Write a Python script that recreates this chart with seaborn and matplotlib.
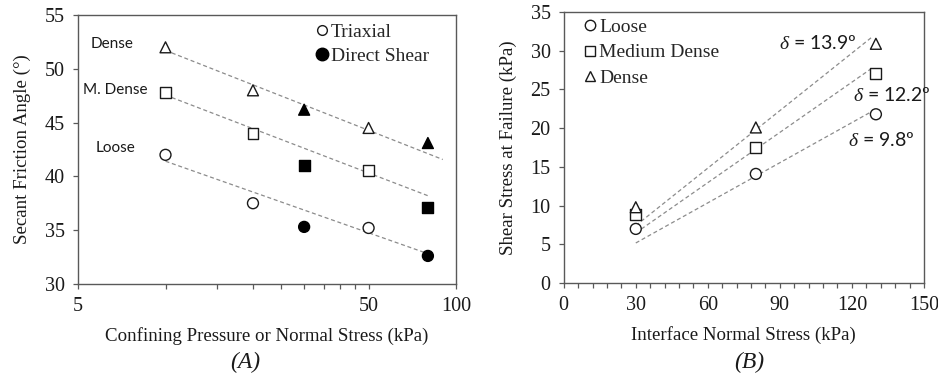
import numpy as np
import pandas as pd
import matplotlib
matplotlib.use("Agg")
import matplotlib.pyplot as plt
from matplotlib.lines import Line2D
from matplotlib.ticker import FixedLocator, FixedFormatter, MultipleLocator, NullFormatter
import seaborn as sns

# ---- Panel A: secant friction angle vs. confining pressure / normal stress ----
triaxial_pressure = [10, 20, 50]
shear_pressure = [30, 80]
density_states = ["Dense", "M. Dense", "Loose"]
triaxial_dense = [52.0, 48.0, 44.5]
triaxial_mdense = [47.8, 44.0, 40.5]
triaxial_loose = [42.0, 37.5, 35.2]
shear_dense = [46.2, 43.1]
shear_mdense = [41.0, 37.1]
shear_loose = [35.3, 32.6]
trend_end = [90, 80, 80]

# ---- Panel B: interface shear stress at failure ----
interface_stress = [30, 80, 130]
interface_states = ["Loose", "Medium Dense", "Dense"]
tau_loose = [7.0, 14.1, 21.8]
tau_medium = [8.9, 17.5, 27.1]
tau_dense = [9.8, 20.1, 30.9]
delta_deg = [9.8, 12.2, 13.9]
line_span = [30, 128]

sns.set_style("ticks")
plt.rcParams["font.family"] = ["Liberation Serif", "DejaVu Serif"]
plt.rcParams["mathtext.fontset"] = "custom"
plt.rcParams["mathtext.it"] = "Liberation Serif:italic"
plt.rcParams["mathtext.rm"] = "Lato"

SPINE = "#595959"
INK = "#1a1a1a"
TREND = "#8c8c8c"
LABEL_SIZE = 13.6
TICK_SIZE = 14.5

fig = plt.figure(figsize=(9.38, 3.76), dpi=100)
axA = fig.add_axes([0.0832, 0.245, 0.403, 0.715])
axB = fig.add_axes([0.601, 0.247, 0.384, 0.721])

marker_A = {"Dense": "^", "M. Dense": "s", "Loose": "o"}
marker_B = {"Loose": "o", "Medium Dense": "s", "Dense": "^"}

tri = pd.DataFrame({
    "pressure": triaxial_pressure * 3,
    "angle": triaxial_dense + triaxial_mdense + triaxial_loose,
    "state": [s for s in density_states for _ in triaxial_pressure],
})
dsh = pd.DataFrame({
    "pressure": shear_pressure * 3,
    "angle": shear_dense + shear_mdense + shear_loose,
    "state": [s for s in density_states for _ in shear_pressure],
})

# log-linear trend lines through the triaxial results
for state, xe in zip(density_states, trend_end):
    sub = tri[tri.state == state]
    k, b = np.polyfit(np.log10(sub.pressure), sub.angle, 1)
    xs = np.array([triaxial_pressure[0], xe])
    axA.plot(xs, k * np.log10(xs) + b, ls=(0, (3.2, 2.2)), lw=0.9, color=TREND, zorder=1)

sns.scatterplot(data=tri, x="pressure", y="angle", style="state", markers=marker_A,
                s=62, facecolor="white", edgecolor=INK, linewidth=1.0, legend=False,
                ax=axA, zorder=3)
sns.scatterplot(data=dsh, x="pressure", y="angle", style="state", markers=marker_A,
                s=62, color="black", edgecolor="black", linewidth=1.0, legend=False,
                ax=axA, zorder=3)

axA.set_xscale("log")
axA.set_xlim(5, 100)
axA.set_ylim(30, 55)
axA.xaxis.set_major_locator(FixedLocator([5, 50, 100]))
axA.xaxis.set_major_formatter(FixedFormatter(["5", "50", "100"]))
axA.xaxis.set_minor_locator(FixedLocator([10, 15, 20, 25, 30, 35, 40, 45]))
axA.xaxis.set_minor_formatter(NullFormatter())
axA.yaxis.set_major_locator(MultipleLocator(5))
axA.set_xlabel("Confining Pressure or Normal Stress (kPa)", fontsize=LABEL_SIZE, color=INK, labelpad=8)
axA.set_ylabel("Secant Friction Angle (°)", fontsize=LABEL_SIZE, color=INK, labelpad=10)

for txt, xf, yv in zip(density_states, [0.09, 0.098, 0.10], [52.3, 48.0, 42.6]):
    axA.text(xf, yv, txt, transform=axA.get_yaxis_transform(), ha="center", va="center",
             fontsize=11, family="Lato", color=INK)

legA = [
    Line2D([], [], ls="none", marker="o", ms=7, mfc="white", mec=INK, mew=1.0, label="Triaxial"),
    Line2D([], [], ls="none", marker="o", ms=9, mfc="black", mec="black", label="Direct Shear"),
]
axA.legend(handles=legA, loc="upper left", bbox_to_anchor=(0.628, 0.968), frameon=False,
           fontsize=14, handlelength=0.7, handletextpad=0.1, labelspacing=0.3,
           borderpad=0, borderaxespad=0)

# ---- Panel B ----
df_b = pd.DataFrame({
    "stress": interface_stress * 3,
    "tau": tau_loose + tau_medium + tau_dense,
    "state": [s for s in interface_states for _ in interface_stress],
})
xs = np.array(line_span, dtype=float)
for d in delta_deg:
    axB.plot(xs, np.tan(np.radians(d)) * xs, ls=(0, (3.2, 2.2)), lw=0.9, color=TREND, zorder=1)

sns.scatterplot(data=df_b, x="stress", y="tau", style="state", markers=marker_B,
                s=62, facecolor="white", edgecolor=INK, linewidth=1.0, legend=False,
                ax=axB, zorder=3)

axB.set_xlim(0, 150)
axB.set_ylim(0, 35)
axB.xaxis.set_major_locator(MultipleLocator(30))
axB.xaxis.set_minor_locator(MultipleLocator(6))
axB.yaxis.set_major_locator(MultipleLocator(5))
axB.set_xlabel("Interface Normal Stress (kPa)", fontsize=LABEL_SIZE, color=INK, labelpad=8)
axB.set_ylabel("Shear Stress at Failure (kPa)", fontsize=LABEL_SIZE, color=INK, labelpad=10)

for d, (xv, yv, ha) in zip(delta_deg, [(118.3, 18.5, "left"), (120.4, 24.3, "left"), (122.0, 31.0, "right")]):
    axB.text(xv, yv, r"$\mathit{\delta}$" + f" = {d}º", ha=ha, va="center",
             fontsize=14, family="Lato", color=INK)

legB = [Line2D([], [], ls="none", marker=marker_B[s], ms=7.5, mfc="white", mec=INK, mew=1.0, label=s)
        for s in interface_states]
axB.legend(handles=legB, loc="upper left", bbox_to_anchor=(0.055, 0.978), frameon=False,
           fontsize=14, handlelength=0.7, handletextpad=0.1, labelspacing=0.42,
           borderpad=0, borderaxespad=0)

for ax in (axA, axB):
    for sp in ax.spines.values():
        sp.set_color(SPINE)
        sp.set_linewidth(1.0)
    ax.tick_params(which="both", direction="out", length=3.5, width=0.9, color=SPINE,
                   labelsize=TICK_SIZE, labelcolor=INK, pad=6)

fig.text(0.261, 0.037, "(A)", fontsize=17, style="italic", ha="center", va="center", color=INK)
fig.text(0.799, 0.037, "(B)", fontsize=17, style="italic", ha="center", va="center", color=INK)

fig.savefig("out.png", dpi=100)
